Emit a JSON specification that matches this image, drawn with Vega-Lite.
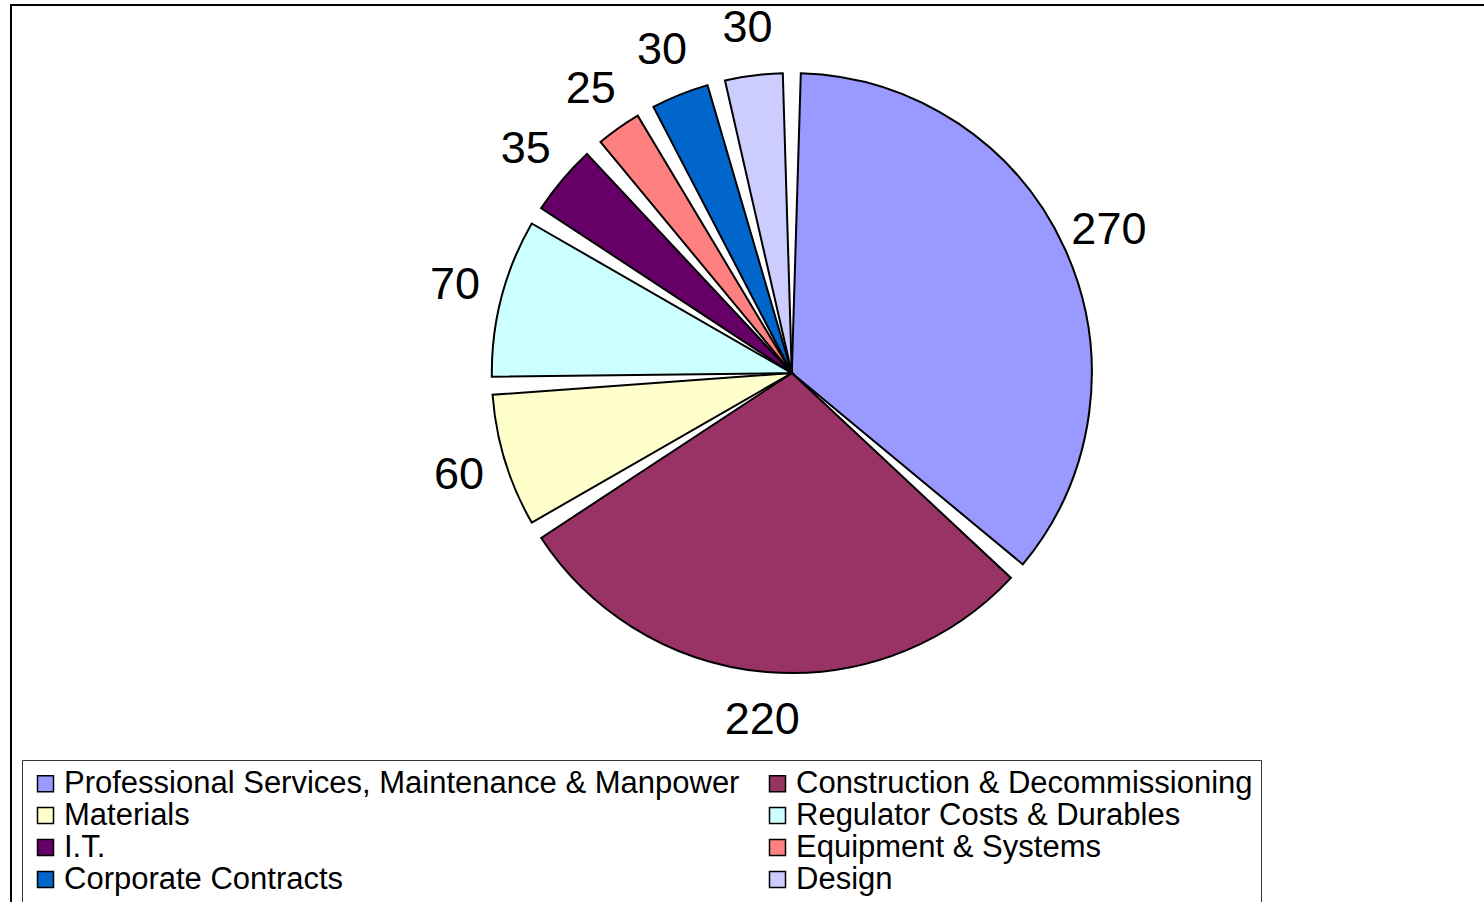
{
  "$schema": "https://vega.github.io/schema/vega-lite/v6.json",
  "autosize": {"type": "none"},
  "padding": {"left": 11, "top": 5, "right": 0, "bottom": 0},
  "width": 1476,
  "height": 899,
  "background": "white",
  "view": {"stroke": "black", "strokeWidth": 2, "fill": "white"},
  "data": {
    "values": [
      {"category": "Professional Services, Maintenance & Manpower", "amount": 270},
      {"category": "Construction & Decommissioning", "amount": 220},
      {"category": "Materials", "amount": 60},
      {"category": "Regulator Costs & Durables", "amount": 70},
      {"category": "I.T.", "amount": 35},
      {"category": "Equipment & Systems", "amount": 25},
      {"category": "Corporate Contracts", "amount": 30},
      {"category": "Design", "amount": 30}
    ]
  },
  "transform": [{"window": [{"op": "row_number", "as": "rank"}]}],
  "encoding": {
    "theta": {"field": "amount", "type": "quantitative", "stack": true},
    "order": {"field": "rank", "type": "quantitative"}
  },
  "layer": [
    {
      "mark": {
        "type": "arc",
        "outerRadius": 300,
        "padAngle": 0.06,
        "stroke": "black",
        "strokeWidth": 2,
        "x": {"expr": "width*0.529"},
        "y": {"expr": "height*0.4094"}
      },
      "encoding": {
        "color": {
          "field": "category",
          "type": "nominal",
          "scale": {
            "domain": ["Professional Services, Maintenance & Manpower", "Materials", "I.T.", "Corporate Contracts", "Construction & Decommissioning", "Regulator Costs & Durables", "Equipment & Systems", "Design"],
            "range": ["#9999FF", "#FFFFCC", "#660066", "#0066CC", "#993366", "#CCFFFF", "#FF8080", "#CCCCFF"]
          },
          "legend": {
            "title": null,
            "orient": "none",
            "legendX": 11,
            "legendY": 755,
            "columns": 2,
            "direction": "vertical",
            "padding": 8,
            "strokeColor": "#333333",
            "fillColor": "white",
            "symbolType": "square",
            "symbolSize": 256,
            "symbolStrokeColor": "black",
            "symbolStrokeWidth": 1.5,
            "symbolOpacity": 1,
            "labelFont": "Liberation Sans",
            "labelFontSize": 31,
            "labelColor": "black",
            "labelLimit": 1000,
            "labelOffset": 3,
            "rowPadding": 0,
            "columnPadding": 22
          }
        }
      }
    },
    {
      "mark": {
        "type": "text",
        "radius": 348,
        "fontSize": 45,
        "font": "Liberation Sans",
        "align": "center",
        "baseline": "middle",
        "x": {"expr": "width*0.529"},
        "y": {"expr": "height*0.4094"}
      },
      "encoding": {
        "text": {"field": "amount", "type": "quantitative"},
        "color": {"value": "black"}
      }
    }
  ],
  "config": {"view": {"stroke": "black", "strokeWidth": 2}}
}
